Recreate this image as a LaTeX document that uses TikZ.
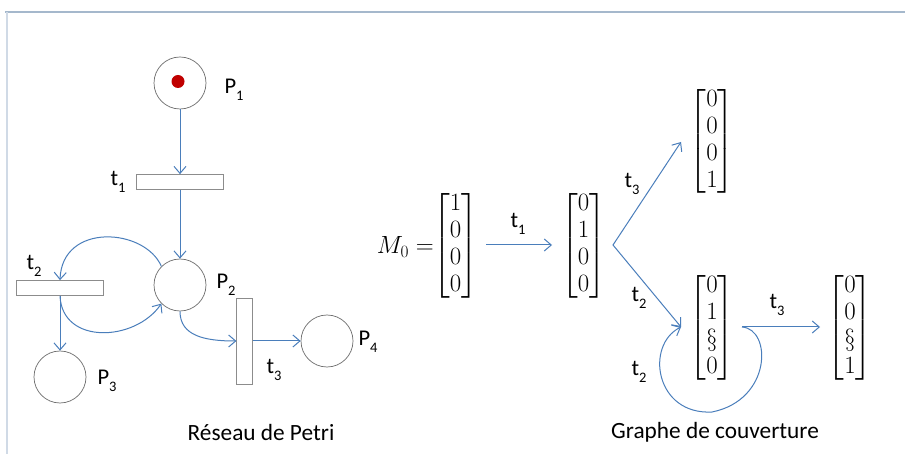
\documentclass[tikz,border=0pt]{standalone}
\usepackage{amsmath}
\usepackage[no-math]{fontspec}
\setmainfont{Carlito}
\usetikzlibrary{arrows.meta}
\definecolor{arcblue}{HTML}{4A7EBB}
\definecolor{placegray}{HTML}{6E6E6E}
\definecolor{transgray}{HTML}{8C8C8C}
\definecolor{tokenred}{HTML}{C00000}
\definecolor{frametop}{HTML}{A5B8CC}
\definecolor{frameleft}{HTML}{D0DAE6}
\newcommand\sbs[1]{\raisebox{-0.32em}{\fontsize{14.5}{15}\selectfont #1}}
\newcommand\mfont{\fontsize{25}{30}\selectfont}
\newcommand\colv[4]{{\mfont\renewcommand{\arraystretch}{0.9}\setlength{\arraycolsep}{2.5pt}$\begin{bmatrix}#1\\#2\\#3\\#4\end{bmatrix}$}}
\tikzset{
  place/.style={circle, draw=placegray, line width=0.7pt, minimum size=52pt, inner sep=0pt},
  trans/.style={rectangle, draw=transgray, line width=0.7pt, inner sep=0pt},
  arc/.style={draw=arcblue, line width=1pt, -{Straight Barb[length=7pt,width=12pt]}},
  lbl/.style={font=\fontsize{22.5}{27}\selectfont, inner sep=0pt},
  caption/.style={font=\fontsize{23.3}{28}\selectfont, inner sep=0pt},
  matnode/.style={inner sep=0pt},
}
\begin{document}
\begin{tikzpicture}[x=1pt,y=-1pt]
\useasboundingbox[fill=white] (0,0) rectangle (905,454);
% frame
\draw[frametop, line width=1.2pt] (5,12) -- (905,12);
\draw[frameleft, line width=1.2pt] (7,12) -- (7,454);

% ---------- Petri net ----------
\node[place] (P1) at (180,83) {};
\fill[tokenred] (178,81.5) circle (6.5);
\node[trans, minimum width=87pt, minimum height=15pt] (t1) at (180,182) {};
\node[place] (P2) at (180,285) {};
\node[trans, minimum width=87pt, minimum height=15pt] (t2) at (60,288) {};
\node[place] (P3) at (60,377) {};
\node[trans, minimum width=15.5pt, minimum height=86pt] (t3) at (244.5,341) {};
\node[place] (P4) at (327,341) {};

\node[lbl] (lP1) at (234,90) {P\sbs{1}};
\node[lbl] (lP2) at (226,285) {P\sbs{2}};
\node[lbl] (lP3) at (107,381) {P\sbs{3}};
\node[lbl] (lP4) at (368,342) {P\sbs{4}};
\node[lbl] (lt1) at (118,182) {t\sbs{1}};
\node[lbl] (lt2) at (34,266) {t\sbs{2}};
\node[lbl] (lt3) at (274,370) {t\sbs{3}};

\draw[arc] (P1) -- (t1);
\draw[arc] (t1) -- (P2);
\draw[arc] (P2.135) .. controls (145,228) and (62,222) .. (t2.north);
\draw[arc] (t2.south) .. controls (62,345) and (135,342) .. (P2.225);
\draw[arc] (t2.south) -- (P3);
\draw[arc] (P2.south) .. controls (180,336) and (205,341) .. (t3.west);
\draw[arc] (t3.east) -- (P4.west);

\node[caption] (cap1) at (261,432) {Réseau de Petri};

% ---------- Graphe de couverture ----------
\node[matnode, anchor=east] (m0lab) at (434,247) {\mfont$M_0 =$};
\node[matnode] (m0) at (455.5,246) {\colv{1}{0}{0}{0}};
\node[matnode] (m1) at (583.5,246) {\colv{0}{1}{0}{0}};
\node[matnode] (m3) at (712,141.5) {\colv{0}{0}{0}{1}};
\node[matnode] (m4) at (712,328) {\colv{0}{1}{\S}{0}};
\node[matnode] (m5) at (850,328) {\colv{0}{0}{\S}{1}};

\coordinate (a0) at (486,245);
\coordinate (a1) at (552,245);
\coordinate (br) at (613,245);
\coordinate (m3in) at (681,142);
\coordinate (m4in) at (681,327);
\coordinate (m4out) at (742,327);
\coordinate (m5in) at (820,327);

\draw[arc] (a0) -- (a1);
\draw[arc, {Straight Barb[length=7pt,width=12pt]}-{Straight Barb[length=7pt,width=12pt]}] (m3in) -- (br) -- (m4in);
\draw[arc] (m4out) -- (m5in);
\draw[arc] (m4out) .. controls (772,329) and (772,400) .. (712,412)
               .. controls (655,415) and (645,345) .. (m4in);

\node[lbl] (g1) at (518,224) {t\sbs{1}};
\node[lbl] (g2) at (632,184) {t\sbs{3}};
\node[lbl] (g3) at (639,298) {t\sbs{2}};
\node[lbl] (g4) at (777,305) {t\sbs{3}};
\node[lbl] (g5) at (639,372) {t\sbs{2}};

\node[caption] (cap2) at (715,432) {Graphe de couverture};
\end{tikzpicture}
\end{document}
